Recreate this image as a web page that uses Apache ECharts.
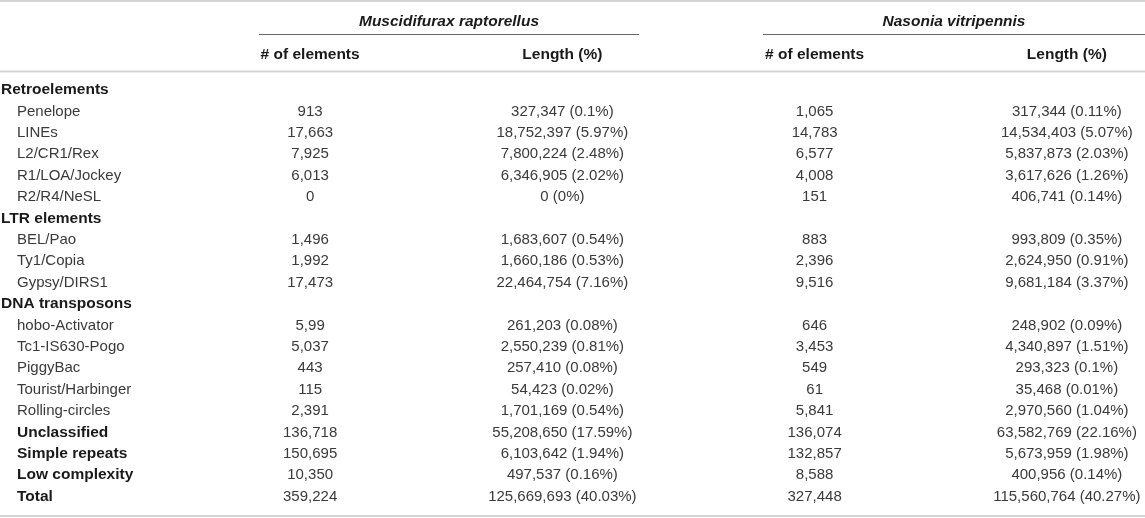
<!DOCTYPE html>
<html>
<head>
<meta charset="utf-8">
<script src="https://cdn.jsdelivr.net/npm/echarts@6/dist/echarts.min.js"></script>
<style>
  html, body { margin: 0; padding: 0; background: #fff; }
  #main { width: 1145px; height: 518px; }
</style>
</head>
<body>
<div id="main"></div>
<script>
// table content
var species = ['Muscidifurax raptorellus', 'Nasonia vitripennis'];
var columns = ['# of elements', 'Length (%)', '# of elements', 'Length (%)'];
var rows = ['Retroelements', 'Penelope', 'LINEs', 'L2/CR1/Rex', 'R1/LOA/Jockey', 'R2/R4/NeSL',
    'LTR elements', 'BEL/Pao', 'Ty1/Copia', 'Gypsy/DIRS1',
    'DNA transposons', 'hobo-Activator', 'Tc1-IS630-Pogo', 'PiggyBac', 'Tourist/Harbinger', 'Rolling-circles',
    'Unclassified', 'Simple repeats', 'Low complexity', 'Total'];
// g = group heading, s = sub row, b = bold summary row
var rowKind = ['g', 's', 's', 's', 's', 's', 'g', 's', 's', 's', 'g', 's', 's', 's', 's', 's', 'b', 'b', 'b', 'b'];

var mrCount = ['', '913', '17,663', '7,925', '6,013', '0', '', '1,496', '1,992', '17,473', '',
    '5,99', '5,037', '443', '115', '2,391', '136,718', '150,695', '10,350', '359,224'];
var mrLength = ['', '327,347 (0.1%)', '18,752,397 (5.97%)', '7,800,224 (2.48%)', '6,346,905 (2.02%)', '0 (0%)', '',
    '1,683,607 (0.54%)', '1,660,186 (0.53%)', '22,464,754 (7.16%)', '',
    '261,203 (0.08%)', '2,550,239 (0.81%)', '257,410 (0.08%)', '54,423 (0.02%)', '1,701,169 (0.54%)',
    '55,208,650 (17.59%)', '6,103,642 (1.94%)', '497,537 (0.16%)', '125,669,693 (40.03%)'];
var nvCount = ['', '1,065', '14,783', '6,577', '4,008', '151', '', '883', '2,396', '9,516', '',
    '646', '3,453', '549', '61', '5,841', '136,074', '132,857', '8,588', '327,448'];
var nvLength = ['', '317,344 (0.11%)', '14,534,403 (5.07%)', '5,837,873 (2.03%)', '3,617,626 (1.26%)', '406,741 (0.14%)', '',
    '993,809 (0.35%)', '2,624,950 (0.91%)', '9,681,184 (3.37%)', '',
    '248,902 (0.09%)', '4,340,897 (1.51%)', '293,323 (0.1%)', '35,468 (0.01%)', '2,970,560 (1.04%)',
    '63,582,769 (22.16%)', '5,673,959 (1.98%)', '400,956 (0.14%)', '115,560,764 (40.27%)'];

var font = "'Liberation Sans', Arial, sans-serif";
var ruleColor = '#d3d3d3';

var myChart = echarts.init(document.getElementById('main'));

var colData = [mrCount, mrLength, nvCount, nvLength];
var cells = [];
for (var c = 0; c < colData.length; c++) {
    for (var r = 0; r < rows.length; r++) {
        if (colData[c][r] !== '') {
            cells.push({ col: c, row: r, text: colData[c][r] });
        }
    }
}

var option = {
    animation: false,
    backgroundColor: '#fff',
    grid: {
        left: 184,
        right: -48,
        top: 79.3,
        bottom: 10.7,
        outerBoundsMode: 'none'
    },
    xAxis: {
        type: 'category',
        position: 'top',
        data: columns,
        axisLine: { show: false },
        axisTick: { show: false },
        splitLine: { show: false },
        axisLabel: {
            interval: 0,
            margin: 17,
            color: '#1a1a1a',
            fontWeight: 'bold',
            fontSize: 15.5,
            fontFamily: font
        }
    },
    yAxis: {
        type: 'category',
        inverse: true,
        data: rows,
        axisLine: { show: false },
        axisTick: { show: false },
        splitLine: { show: false },
        axisLabel: {
            interval: 0,
            margin: 183,
            align: 'left',
            fontFamily: font,
            fontSize: 15,
            formatter: function (value, index) {
                return '{' + rowKind[index] + '|' + value + '}';
            },
            rich: {
                g: { fontWeight: 'bold', color: '#1a1a1a', fontSize: 15.5, fontFamily: font },
                s: { color: '#3a3a3a', fontSize: 15, fontFamily: font, padding: [0, 0, 0, 16] },
                b: { fontWeight: 'bold', color: '#1a1a1a', fontSize: 15.5, fontFamily: font, padding: [0, 0, 0, 16] }
            }
        }
    },
    graphic: [
        { type: 'line', shape: { x1: 0, y1: 1, x2: 1145, y2: 1 }, style: { stroke: ruleColor, lineWidth: 2 } },
        { type: 'line', shape: { x1: 0, y1: 71.5, x2: 1145, y2: 71.5 }, style: { stroke: ruleColor, lineWidth: 2 } },
        { type: 'line', shape: { x1: 0, y1: 516, x2: 1145, y2: 516 }, style: { stroke: ruleColor, lineWidth: 2 } },
        { type: 'line', shape: { x1: 259, y1: 34.5, x2: 639, y2: 34.5 }, style: { stroke: '#666', lineWidth: 1 } },
        { type: 'line', shape: { x1: 763, y1: 34.5, x2: 1145, y2: 34.5 }, style: { stroke: '#666', lineWidth: 1 } },
        {
            type: 'text', x: 449, y: 21.5,
            style: {
                text: species[0], align: 'center', verticalAlign: 'middle',
                font: 'italic bold 15.5px ' + font, fill: '#1a1a1a'
            }
        },
        {
            type: 'text', x: 954, y: 21.5,
            style: {
                text: species[1], align: 'center', verticalAlign: 'middle',
                font: 'italic bold 15.5px ' + font, fill: '#1a1a1a'
            }
        }
    ],
    series: [{
        type: 'custom',
        coordinateSystem: 'cartesian2d',
        data: cells.map(function (d) { return [d.col, d.row]; }),
        renderItem: function (params, api) {
            var p = api.coord([api.value(0), api.value(1)]);
            return {
                type: 'text',
                x: p[0],
                y: p[1],
                style: {
                    text: cells[params.dataIndex].text,
                    align: 'center',
                    verticalAlign: 'middle',
                    fontSize: 15,
                    fontFamily: font,
                    fill: '#3a3a3a'
                }
            };
        }
    }]
};
myChart.setOption(option);
</script>
</body>
</html>
